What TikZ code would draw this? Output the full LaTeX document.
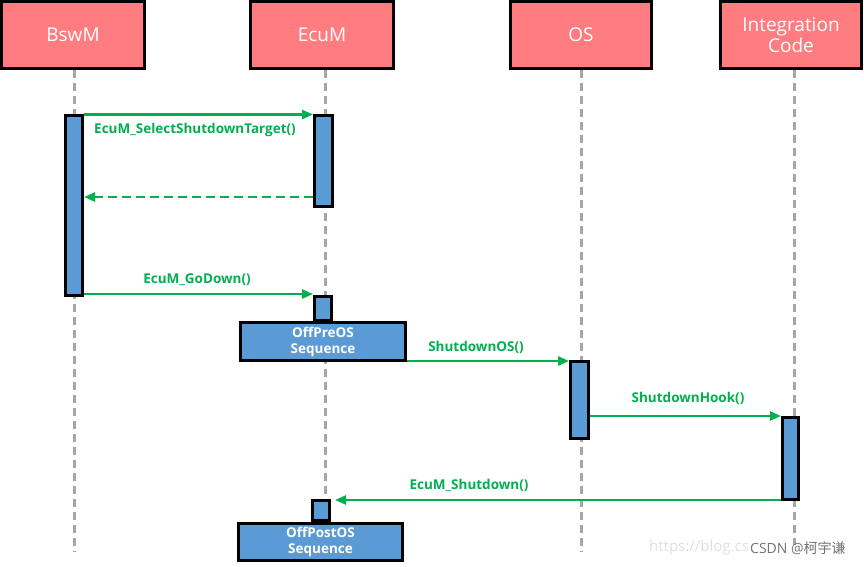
\documentclass[tikz,border=0pt]{standalone}
\usepackage{fontspec}
\setmainfont{Open Sans}
\newfontfamily\cjk{Noto Sans CJK SC}
\usetikzlibrary{arrows.meta}
\definecolor{hdrfill}{HTML}{FF7C80}
\definecolor{actfill}{HTML}{5B9BD5}
\definecolor{msg}{HTML}{00B050}
\definecolor{life}{HTML}{A6A6A6}
\begin{document}
\begin{tikzpicture}[x=1pt,y=-1pt,
 hdr/.style={draw=black, line width=3pt, fill=hdrfill, text=white, font=\fontsize{19}{21.5}\selectfont, align=center, inner sep=0pt},
 act/.style={draw=black, line width=3pt, fill=actfill, inner sep=0pt},
 seqbox/.style={act, text=white, font=\bfseries\fontsize{13.5}{16}\selectfont, align=center},
 lifeline/.style={draw=life, line width=3pt, dash pattern=on 8pt off 5pt},
 msgline/.style={draw=msg, line width=2.5pt, -{Triangle[length=11pt,width=9pt]}},
 lbl/.style={text=msg, font=\bfseries\fontsize{13.5}{15}\selectfont, inner sep=0pt}]
\useasboundingbox (0,0) rectangle (864,566);
\fill[white] (0,0) rectangle (864,566);
% headers
\node[hdr, minimum width=143pt, minimum height=67pt] (bswm) at (73,35) {BswM};
\node[hdr, minimum width=143pt, minimum height=67pt] (ecum) at (322,35) {EcuM};
\node[hdr, minimum width=141pt, minimum height=67pt] (os) at (581,35) {OS};
\node[hdr, minimum width=141pt, minimum height=67pt] (ic) at (791,35) {Integration\\Code};
% lifelines
\draw[lifeline] ([xshift=1pt]bswm.south) -- ++(0,482);
\draw[lifeline] ([xshift=3pt]ecum.south) -- ++(0,482);
\draw[lifeline] (os.south) -- ++(0,482);
\draw[lifeline] ([xshift=3pt]ic.south) -- ++(0,475);
% activations
\node[act, minimum width=17pt, minimum height=180pt] (bswmA) at (74,205.5) {};
\node[act, minimum width=18pt, minimum height=91pt] (ecumA1) at (323.5,161) {};
\node[act, minimum width=17pt, minimum height=24pt] (ecumA2) at (323,308.5) {};
\node[seqbox, minimum width=165pt, minimum height=38pt] (offpre) at (323,341.5) {OffPreOS\\Sequence};
\node[act, minimum width=18pt, minimum height=77pt] (osA) at (579.5,400) {};
\node[act, minimum width=16pt, minimum height=82pt] (icA) at (790.5,458.5) {};
\node[act, minimum width=17pt, minimum height=20pt] (ecumA3) at (321,510.5) {};
\node[seqbox, minimum width=164pt, minimum height=37pt] (offpost) at (320.5,542) {OffPostOS\\Sequence};
% message rows
\coordinate (r1) at (0,114.5);
\coordinate (r2) at (0,197);
\coordinate (r3) at (0,294);
\coordinate (r4) at (0,361);
\coordinate (r5) at (0,416);
\coordinate (r6) at (0,500);
\draw[msgline] (bswmA.east |- r1) -- (ecumA1.west |- r1);
\draw[msgline, dash pattern=on 9pt off 5pt] (ecumA1.west |- r2) -- (bswmA.east |- r2);
\draw[msgline] (bswmA.east |- r3) -- (ecumA2.west |- r3);
\draw[msgline] (offpre.east |- r4) -- (osA.west |- r4);
\draw[msgline] (osA.east |- r5) -- (icA.west |- r5);
\draw[msgline] (icA.west |- r6) -- ([xshift=4pt]ecumA3.east |- r6);
% labels
\node[lbl] (l1) at (195,130) {EcuM\_SelectShutdownTarget()};
\node[lbl] (l3) at (197,280) {EcuM\_GoDown()};
\node[lbl] (l4) at (476,347) {ShutdownOS()};
\node[lbl] (l5) at (688,398) {ShutdownHook()};
\node[lbl] (l6) at (469,485) {EcuM\_Shutdown()};
% watermark
\node[anchor=west, text=black!12, font=\fontsize{15}{17}\selectfont, inner sep=0pt] (wm1) at (649,548) {https://blog.cs};
\node[anchor=west, text=black!55, font=\fontsize{14}{16}\selectfont, inner sep=0pt] (wm2) at (750,548) {CSDN @{\cjk 柯宇谦}};
\end{tikzpicture}
\end{document}
